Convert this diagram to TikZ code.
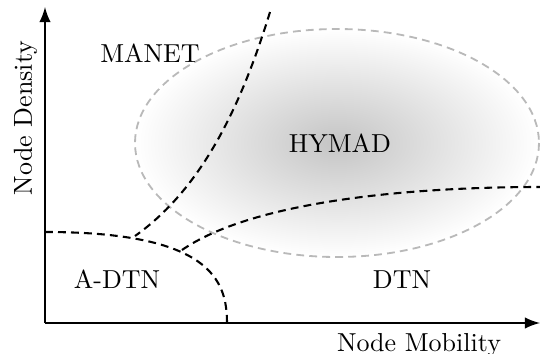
\documentclass[tikz,border=0pt]{standalone}
\usetikzlibrary{arrows}
\begin{document}
\begin{tikzpicture}[x=0.3846pt,y=-0.3846pt,
  axis/.style={line width=1pt,-latex},
  bound/.style={thick,dash pattern=on 3pt off 2pt},
  region/.style={gray!55,line width=0.7pt,dash pattern=on 3pt off 2pt},
  lbl/.style={anchor=base,inner sep=0pt}]
\useasboundingbox (0,0) rectangle (540,354);
% shaded region
\shade[inner color=black!23,outer color=white] (337,143) ellipse [x radius=202,y radius=114];
\draw[region] (337,143) ellipse [x radius=202,y radius=114];
% axes
\coordinate (O) at (45,323);
\coordinate (Ytop) at (45,7);
\coordinate (Xend) at (540,323);
\draw[axis] (O) -- (Ytop);
\draw[axis] (O) -- (Xend);
% boundaries
\coordinate (a1) at (270,12);
\coordinate (a2) at (135,236);
\coordinate (b1) at (45,232);
\coordinate (b2) at (227,323);
\coordinate (c1) at (182,250);
\coordinate (c2) at (540,187);
\draw[bound] (a1) .. controls (240,110) and (200,190) .. (a2);
\draw[bound] (b1) .. controls (210,232) and (227,280) .. (b2);
\draw[bound] (c1) .. controls (250,203) and (400,187) .. (c2);
% labels
\node[lbl] (manet) at (150,62) {MANET};
\node[lbl] (hymad) at (340,152) {HYMAD};
\node[lbl] (adtn) at (117,288) {A-DTN};
\node[lbl] (dtn) at (402,288) {DTN};
\node[lbl] (xl) at (419,351) {Node Mobility};
\node[lbl,rotate=90] (yl) at (32,118) {Node Density};
\end{tikzpicture}
\end{document}
